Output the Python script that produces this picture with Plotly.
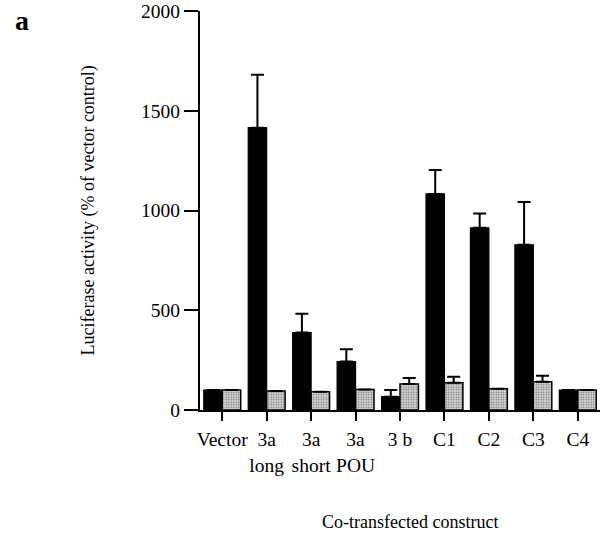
import plotly.graph_objects as go

# ---- data ----
categories = ["Vector", "3a long", "3a short", "3a POU", "3b", "C1", "C2", "C3", "C4"]
tick_labels = ["Vector", "3a<br>long", "3a<br>short", "3a<br>POU", "3 b", "C1", "C2", "C3", "C4"]
black_values = [100, 1415, 388, 243, 67, 1083, 913, 828, 100]
black_err_up = [0, 265, 95, 62, 33, 120, 72, 215, 0]
gray_values = [100, 95, 92, 103, 130, 137, 107, 142, 100]
gray_err_up = [0, 0, 0, 0, 30, 30, 0, 30, 0]
y_ticks = [0, 500, 1000, 1500, 2000]

FONT = "Liberation Serif, Times New Roman, serif"
x_pos = list(range(len(categories)))

fig = go.Figure()
fig.add_trace(go.Bar(
    x=x_pos, y=black_values, name="black",
    marker=dict(color="black", line=dict(color="black", width=1.2)),
    error_y=dict(type="data", array=black_err_up, arrayminus=[0] * len(categories),
                 symmetric=False, color="black", thickness=2, width=6.5),
))
fig.add_trace(go.Bar(
    x=x_pos, y=gray_values, name="stippled",
    marker=dict(color="white", line=dict(color="black", width=1.5),
                pattern=dict(shape=".", fgcolor="black", bgcolor="#dcdcdc",
                             size=2.5, solidity=0.35)),
    error_y=dict(type="data", array=gray_err_up, arrayminus=[0] * len(categories),
                 symmetric=False, color="black", thickness=2, width=6.5),
))

fig.update_layout(
    width=607, height=540,
    margin=dict(l=200, r=7, t=11, b=130, autoexpand=False),
    paper_bgcolor="white", plot_bgcolor="white",
    barmode="group", bargap=0.17, bargroupgap=0.0,
    showlegend=False,
    font=dict(family=FONT, size=19, color="black"),
    xaxis=dict(
        range=[-0.5, 8.5], tickmode="array", tickvals=x_pos, ticktext=tick_labels,
        showline=True, linecolor="black", linewidth=2, tickangle=0, automargin=False,
        ticks="outside", ticklen=9, tickwidth=1.5, tickcolor="black",
        showgrid=False, zeroline=False, ticklabelstandoff=2,
        tickfont=dict(family=FONT, size=19.5),
    ),
    yaxis=dict(
        range=[0, 2000], tickmode="array", tickvals=y_ticks, automargin=False,
        showline=True, linecolor="black", linewidth=2,
        ticks="outside", ticklen=14, tickwidth=2, tickcolor="black",
        showgrid=False, zeroline=False,
        tickfont=dict(family=FONT, size=19.5),
    ),
    annotations=[
        dict(text="Luciferase activity (% of vector control)", textangle=-90,
             xref="paper", yref="paper", x=-0.28, y=0.5,
             xanchor="center", yanchor="middle", showarrow=False,
             font=dict(family=FONT, size=18)),
        dict(text="Co-transfected construct",
             xref="paper", yref="paper", x=0.525, y=-0.281,
             xanchor="center", yanchor="middle", showarrow=False,
             font=dict(family=FONT, size=18)),
        dict(text="<b>a</b>",
             xref="paper", yref="paper", x=-0.445, y=0.977,
             xanchor="center", yanchor="middle", showarrow=False,
             font=dict(family=FONT, size=28)),
    ],
)

fig.write_html("out.html", config={"displayModeBar": False},
               post_script="document.body.style.margin='0';document.body.style.padding='0';")
